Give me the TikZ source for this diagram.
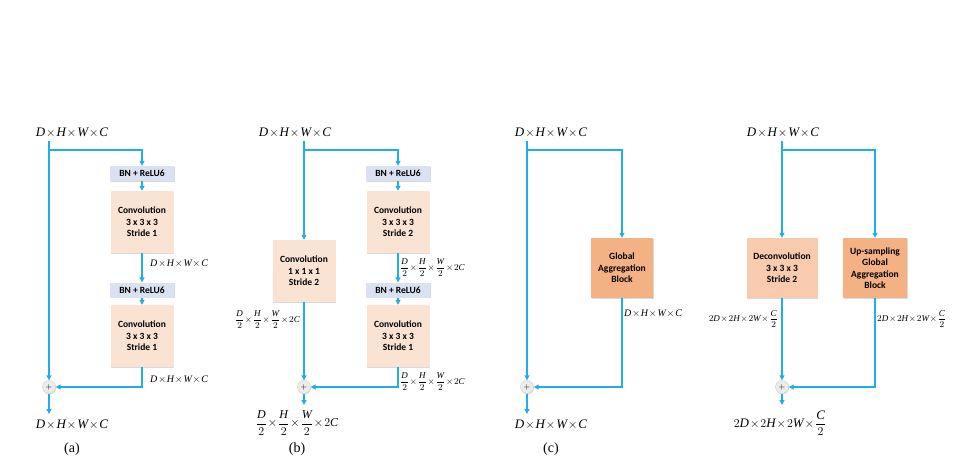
\documentclass[tikz,border=0pt]{standalone}
\usepackage{amsmath}
\usepackage{fontspec}
\setmainfont{Liberation Serif}
\newfontfamily\boxfont{Carlito}
\usetikzlibrary{arrows.meta,shadows}
\definecolor{arr}{HTML}{1EAEE8}
\definecolor{bnc}{HTML}{D9E1F2}
\definecolor{cvc}{HTML}{FBE3D3}
\definecolor{dcc}{HTML}{F8CBAD}
\definecolor{gac}{HTML}{F4B183}
\newcommand{\mv}[1]{\textit{#1}}
\newcommand{\tx}{\mkern1.5mu{\times}\mkern1.5mu}
\newcommand{\fr}[1]{\dfrac{\mv{#1}}{2}}
\begin{document}
\begin{tikzpicture}[x=1pt,y=-1pt,
  ln/.style={draw=arr,line width=1.1pt},
  ar/.style={ln,-{Triangle[length=5pt,width=5pt]}},
  bx/.style={font=\boxfont\bfseries\fontsize{9.5}{11.5}\selectfont,align=center,inner sep=1pt,drop shadow={shadow xshift=0.8pt,shadow yshift=-0.8pt,opacity=0.3}},
  bn/.style={bx,fill=bnc,minimum width=64pt,minimum height=15pt},
  cv/.style={bx,fill=cvc,minimum width=63pt,minimum height=62pt},
  pl/.style={circle,fill=gray!15,draw=gray!40,minimum size=13pt,inner sep=0pt,font=\sffamily\fontsize{8}{8}\selectfont,drop shadow={shadow xshift=0.5pt,shadow yshift=-0.8pt,opacity=0.3}},
  lb/.style={font=\fontsize{13}{14}\selectfont,inner sep=1pt},
  sl/.style={font=\fontsize{10}{11}\selectfont,inner sep=1pt},
  ss/.style={font=\fontsize{9}{10}\selectfont,inner sep=1pt},
  captxt/.style={font=\fontsize{14}{14}\selectfont}]
\useasboundingbox (0,0) rectangle (960,474);
% ---------- (a)
\node[lb] (ain) at (72,133) {$\mv{D}\tx\mv{H}\tx\mv{W}\tx\mv{C}$};
\coordinate (aj) at (49,150);
\node[bn] (abn1) at (142,173.5) {BN + ReLU6};
\node[cv] (acv1) at (142,222) {Convolution\\3 x 3 x 3\\Stride 1};
\node[bn] (abn2) at (142,290) {BN + ReLU6};
\node[cv] (acv2) at (142,336) {Convolution\\3 x 3 x 3\\Stride 1};
\node[pl] (apl) at (49,387) {+};
\node[lb] (aout) at (72,425) {$\mv{D}\tx\mv{H}\tx\mv{W}\tx\mv{C}$};
\node[captxt] (acap) at (72,449) {(a)};
\node[sl,anchor=west] (al1) at (149,264) {$\mv{D}\tx\mv{H}\tx\mv{W}\tx\mv{C}$};
\node[sl,anchor=west] (al2) at (149,380) {$\mv{D}\tx\mv{H}\tx\mv{W}\tx\mv{C}$};
\draw[ar] (49,141) -- (apl);
\draw[ar] (aj) -| (abn1);
\draw[ar] (abn1) -- (acv1);
\draw[ar] (acv1) -- (abn2);
\draw[ar] (abn2) -- (acv2);
\draw[ar] (acv2) |- (apl);
\draw[ar] (apl) -- (49,414);
% ---------- (b)
\node[lb] (bin) at (295,133) {$\mv{D}\tx\mv{H}\tx\mv{W}\tx\mv{C}$};
\coordinate (bj) at (304,150);
\node[bn] (bbn1) at (398,173.5) {BN + ReLU6};
\node[cv] (bcv1) at (398,222) {Convolution\\3 x 3 x 3\\Stride 2};
\node[bn] (bbn2) at (398,290) {BN + ReLU6};
\node[cv] (bcv2) at (398,336) {Convolution\\3 x 3 x 3\\Stride 1};
\node[cv] (bcv0) at (304,271) {Convolution\\1 x 1 x 1\\Stride 2};
\node[pl] (bpl) at (304,387) {+};
\node[font=\fontsize{12}{13}\selectfont,inner sep=0pt] (bout) at (297,423) {$\fr{D}\tx\fr{H}\tx\fr{W}\tx2\mv{C}$};
\node[captxt] (bcap) at (297,449) {(b)};
\node[ss,anchor=west] (bl1) at (399,268) {$\fr{D}\tx\fr{H}\tx\fr{W}\tx2\mv{C}$};
\node[ss,anchor=west] (bl2) at (399,382) {$\fr{D}\tx\fr{H}\tx\fr{W}\tx2\mv{C}$};
\node[ss,anchor=east] (bl3) at (301,320) {$\fr{D}\tx\fr{H}\tx\fr{W}\tx2\mv{C}$};
\draw[ar] (304,141) -- (bcv0);
\draw[ar] (bcv0) -- (bpl);
\draw[ar] (bj) -| (bbn1);
\draw[ar] (bbn1) -- (bcv1);
\draw[ar] (bcv1) -- (bbn2);
\draw[ar] (bbn2) -- (bcv2);
\draw[ar] (bcv2) |- (bpl);
\draw[ar] (bpl) -- (304,405);
% ---------- (c)
\node[lb] (cin) at (551,133) {$\mv{D}\tx\mv{H}\tx\mv{W}\tx\mv{C}$};
\coordinate (cj) at (527,150);
\node[bx,fill=gac,minimum width=62pt,minimum height=60pt] (cga) at (622,268) {Global\\Aggregation\\Block};
\node[pl] (cpl) at (527,387) {+};
\node[lb] (cout) at (551,425) {$\mv{D}\tx\mv{H}\tx\mv{W}\tx\mv{C}$};
\node[captxt] (ccap) at (551,449) {(c)};
\node[sl,anchor=west] (cl1) at (623,314) {$\mv{D}\tx\mv{H}\tx\mv{W}\tx\mv{C}$};
\draw[ar] (527,141) -- (cpl);
\draw[ar] (cj) -| (cga);
\draw[ar] (cga) |- (cpl);
\draw[ar] (cpl) -- (527,414);
% ---------- (d)
\node[lb] (din) at (783,133) {$\mv{D}\tx\mv{H}\tx\mv{W}\tx\mv{C}$};
\coordinate (dj) at (782,150);
\node[bx,fill=dcc,minimum width=71pt,minimum height=60pt] (ddc) at (782,268) {Deconvolution\\3 x 3 x 3\\Stride 2};
\node[bx,fill=gac,minimum width=64pt,minimum height=60pt] (dga) at (875,268) {Up-sampling\\Global\\Aggregation\\Block};
\node[pl] (dpl) at (782,387) {+};
\node[font=\fontsize{13}{14}\selectfont,inner sep=0pt] (dout) at (780,423) {$2\mv{D}\tx2\mv{H}\tx2\mv{W}\tx\fr{C}$};
\node[ss,anchor=east] (dl1) at (779,319) {$2\mv{D}\tx2\mv{H}\tx2\mv{W}\tx\dfrac{\mv{C}}{2}$};
\node[ss,anchor=west] (dl2) at (876,319) {$2\mv{D}\tx2\mv{H}\tx2\mv{W}\tx\dfrac{\mv{C}}{2}$};
\draw[ar] (782,141) -- (ddc);
\draw[ar] (ddc) -- (dpl);
\draw[ar] (dj) -| (dga);
\draw[ar] (dga) |- (dpl);
\draw[ar] (dpl) -- (782,405);
\end{tikzpicture}
\end{document}
